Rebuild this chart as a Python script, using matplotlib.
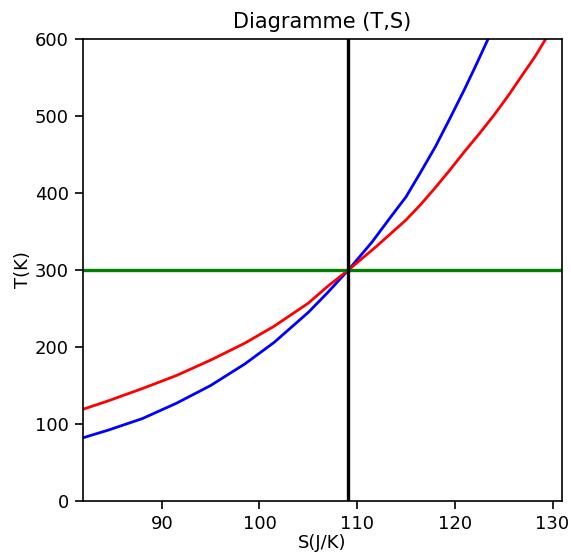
import matplotlib
matplotlib.use("Agg")
import matplotlib.pyplot as plt

# blue curve (isochore)
S_blue = [81.9, 84.5, 88.0, 91.5, 95.0, 98.5, 101.5, 105.0, 107.0, 109.1, 111.5, 113.5,
          115.0, 116.5, 118.0, 119.5, 121.0, 122.2, 123.4]
T_blue = [82, 92, 107, 127, 150, 178, 206, 245, 271, 300, 336, 370,
          395, 427, 460, 497, 535, 567, 600]

# red curve (isobare)
S_red = [81.9, 84.5, 88.0, 91.5, 95.0, 98.5, 101.5, 105.0, 107.0, 109.1, 112.0, 115.0,
         116.5, 118.0, 119.5, 121.0, 122.5, 124.0, 125.5, 127.0, 128.2, 129.3]
T_red = [119, 130, 146, 163, 183, 205, 227, 257, 279, 300, 331, 365,
         385, 407, 430, 454, 477, 501, 527, 555, 577, 600]

# reference state
S0 = 109.1
T0 = 300

plt.rcParams['font.size'] = 13

fig = plt.figure(figsize=(5.71, 5.53), dpi=100)
ax = fig.add_axes([0.1448, 0.094, 0.84, 0.8355])

ax.plot(S_blue, T_blue, color="b", lw=2)
ax.plot(S_red, T_red, color="r", lw=2)
ax.axhline(T0, color="g", lw=2.4)
ax.axvline(S0, color="k", lw=2.4)

ax.set_xlim(81.9, 131.0)
ax.set_ylim(0, 600)
ax.set_xticks([90, 100, 110, 120, 130])
ax.set_yticks([0, 100, 200, 300, 400, 500, 600])
ax.tick_params(length=6, width=1.2, pad=4)
for sp in ax.spines.values():
    sp.set_linewidth(1.2)
ax.set_title("Diagramme (T,S)", fontsize=15, pad=8)
ax.set_xlabel("S(J/K)", labelpad=1)
ax.set_ylabel("T(K)", labelpad=2)

fig.savefig("out.png", dpi=100)
